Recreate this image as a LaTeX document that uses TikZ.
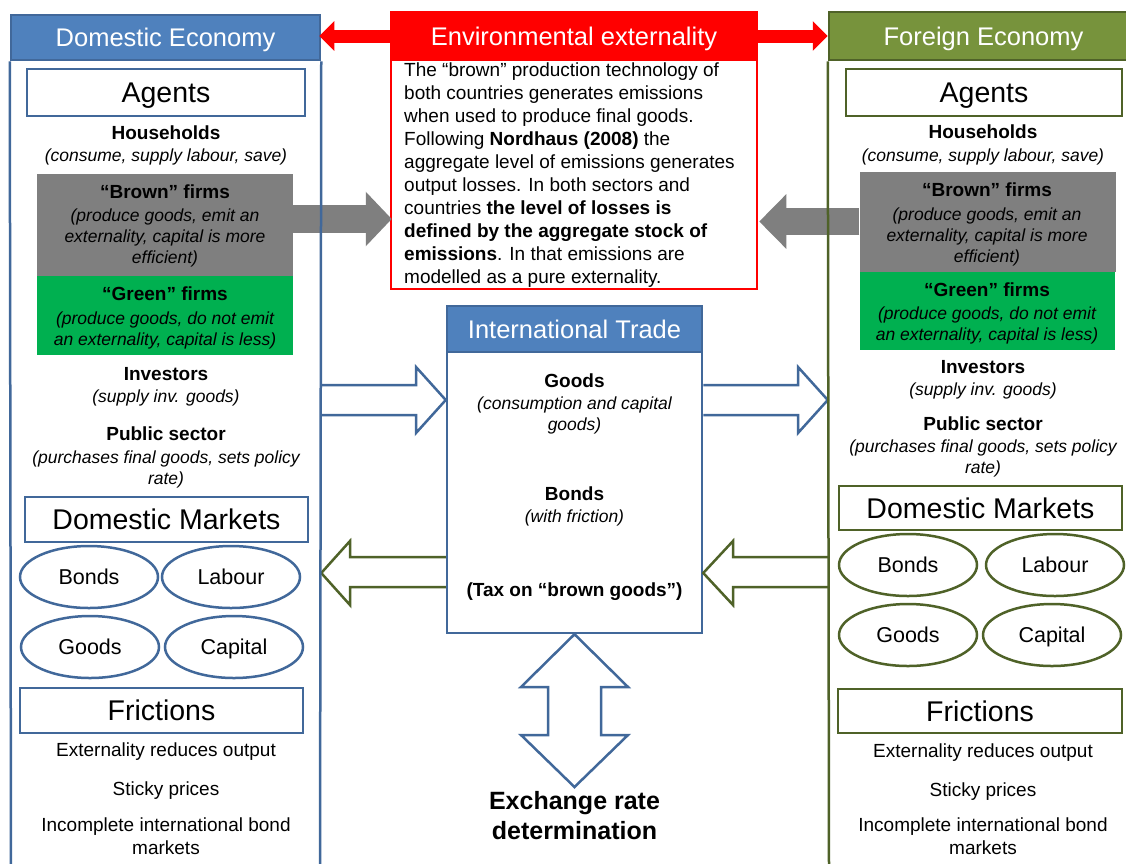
\documentclass[tikz,border=0pt]{standalone}
\usepackage{fontspec}
\setmainfont{Liberation Sans}
\usetikzlibrary{shapes.geometric,arrows.meta,calc}
\definecolor{dblue}{HTML}{41689A}
\definecolor{hblue}{HTML}{4F81BD}
\definecolor{olive}{HTML}{77933C}
\definecolor{dolive}{HTML}{4F6228}
\definecolor{gfill}{HTML}{00B050}
\definecolor{brfill}{HTML}{7F7F7F}
\definecolor{redc}{HTML}{FF0000}
\tikzset{
 lbl/.style={font=\fontsize{19}{22}\selectfont\bfseries, inner sep=0, text height=13.7pt, text depth=0pt},
 desc/.style={font=\fontsize{17.5}{21}\selectfont\itshape, inner sep=0, text height=12.6pt, text depth=0pt},
 descm/.style={font=\fontsize{17.5}{21}\selectfont\itshape, inner sep=0, align=center},
 plain/.style={font=\fontsize{19}{23}\selectfont, inner sep=0, text height=13.7pt, text depth=0pt},
 plainm/.style={font=\fontsize{19}{23}\selectfont, inner sep=0, align=center},
 hdr/.style={font=\fontsize{25.5}{28}\selectfont, text=white, line width=2.5pt, inner sep=0, text height=18.4pt, text depth=0pt},
 secbox/.style={draw, line width=2.5pt, font=\fontsize{28.5}{30}\selectfont, inner sep=0, fill=white, text height=20.5pt, text depth=0pt},
 mkt/.style={ellipse, draw, line width=2.5pt, minimum width=138pt, minimum height=62pt, inner sep=0, font=\fontsize{21.5}{24}\selectfont, text height=15.5pt, text depth=0pt},
 firmbox/.style={inner sep=0, minimum width=256pt},
 hollow/.style={line width=2.5pt, fill=white, line join=miter},
 panelD/.style={dblue, line width=2.5pt},
 panelF/.style={dolive, line width=2.5pt},
}
\begin{document}
\begin{tikzpicture}[x=1pt,y=-1pt]
\clip (0,0) rectangle (1126,863);
\fill[white] (0,0) rectangle (1126,863);

% ---------- Domestic economy ----------
\node[hdr, fill=hblue, draw=dblue, minimum width=309pt, minimum height=45pt] (domH) at (165.5,37.5) {Domestic Economy};
\coordinate (domBL) at (11,870);
\coordinate (domBR) at (320,870);
\node[secbox, draw=dblue, minimum width=278pt, minimum height=47pt] (agD) at (166,92.5) {Agents};
\node[lbl] (hhD) at (166,133) {Households};
\node[desc] (hhDd) at (166,155) {(consume, supply labour, save)};
\node[firmbox, fill=brfill, minimum height=102pt] (brD) at (165,225) {};
\node[firmbox, fill=gfill, minimum height=79pt] (grD) at (165,315.5) {};
\node[lbl] (brDt) at (165,192) {“Brown” firms};
\node[descm] (brDd) at (165,237.5) {(produce goods, emit an\\externality, capital is more\\efficient)};
\node[lbl] (grDt) at (165,294) {“Green” firms};
\node[descm] (grDd) at (165,330.5) {(produce goods, do not emit\\an externality, capital is less)};
\node[lbl] (invD) at (166,374) {Investors};
\node[desc] (invDd) at (166,396) {(supply inv. goods)};
\node[lbl] (pubD) at (166,434) {Public sector};
\node[descm] (pubDd) at (166,469.5) {(purchases final goods, sets policy\\rate)};
\node[secbox, draw=dblue, minimum width=283pt, minimum height=45pt] (dmD) at (166.5,519.5) {Domestic Markets};
\node[mkt, draw=dblue] (bondsD) at (89,577) {Bonds};
\node[mkt, draw=dblue] (labD) at (231,577) {Labour};
\node[mkt, draw=dblue] (goodsD) at (90,647) {Goods};
\node[mkt, draw=dblue] (capD) at (234,647) {Capital};
\node[secbox, draw=dblue, minimum width=283pt, minimum height=45pt] (frD) at (161.5,710.5) {Frictions};
\node[plain] (f1D) at (166,750) {Externality reduces output};
\node[plain] (f2D) at (166,789) {Sticky prices};
\node[plainm] (f3D) at (166,836) {Incomplete international bond\\markets};

% ---------- Foreign economy ----------
\node[hdr, fill=olive, draw=dolive, minimum width=309pt, minimum height=48pt] (forH) at (983.5,36) {Foreign Economy};
\coordinate (forBL) at (829,870);
\node[secbox, draw=dolive, minimum width=276pt, minimum height=47pt] (agF) at (984,92.5) {Agents};
\node[lbl] (hhF) at (983,132) {Households};
\node[desc] (hhFd) at (983,155) {(consume, supply labour, save)};
\node[firmbox, fill=brfill, minimum height=100pt] (brF) at (987.5,222) {};
\node[firmbox, fill=gfill, minimum height=78pt, minimum width=255pt] (grF) at (987.5,311) {};
\node[lbl] (brFt) at (987,190) {“Brown” firms};
\node[descm] (brFd) at (987,236.5) {(produce goods, emit an\\externality, capital is more\\efficient)};
\node[lbl] (grFt) at (987,290) {“Green” firms};
\node[descm] (grFd) at (987,325) {(produce goods, do not emit\\an externality, capital is less)};
\node[lbl] (invF) at (983,367) {Investors};
\node[desc] (invFd) at (983,389) {(supply inv. goods)};
\node[lbl] (pubF) at (983,424) {Public sector};
\node[descm] (pubFd) at (983,458.5) {(purchases final goods, sets policy\\rate)};
\node[secbox, draw=dolive, minimum width=283pt, minimum height=44pt] (dmF) at (980.5,508) {Domestic Markets};
\node[mkt, draw=dolive] (bondsF) at (908,565) {Bonds};
\node[mkt, draw=dolive] (labF) at (1055,565) {Labour};
\node[mkt, draw=dolive] (goodsF) at (908,635) {Goods};
\node[mkt, draw=dolive] (capF) at (1052,635) {Capital};
\node[secbox, draw=dolive, minimum width=284pt, minimum height=44pt] (frF) at (980,711) {Frictions};
\node[plain] (f1F) at (983,751) {Externality reduces output};
\node[plain] (f2F) at (983,790) {Sticky prices};
\node[plainm] (f3F) at (983,836) {Incomplete international bond\\markets};

% ---------- Environmental externality ----------
\node[draw=redc, line width=2.5pt, fill=white, minimum width=366pt, minimum height=277pt, inner sep=0] (env) at (574,150.5) {};
\node[hdr, fill=redc, draw=redc, minimum width=366pt, minimum height=48pt] (envH) at (574,36) {Environmental externality};
\node[font=\fontsize{19}{23}\selectfont, align=left, inner sep=0, anchor=west] (envT) at (404,175.5) {The “brown” production technology of\\
both countries generates emissions\\
when used to produce final goods.\\
Following \textbf{Nordhaus (2008)} the\\
aggregate level of emissions generates\\
output losses. In both sectors and\\
countries \textbf{the level of losses is}\\
\textbf{defined by the aggregate stock of}\\
\textbf{emissions}. In that emissions are\\
modelled as a pure externality.};

% red arrows
\draw[redc, line width=13pt, -{Triangle[width=29pt,length=15pt]}] (envH.west) -- ($(envH.west -| domH.east)+(-2,0)$);
\draw[redc, line width=13pt, -{Triangle[width=29pt,length=15pt]}] (envH.east) -- (envH.east -| forH.west);

% gray arrows
\coordinate (gL) at (0,219);
\coordinate (gR) at (0,221.5);
\draw[brfill, line width=28pt, -{Triangle[width=53pt,length=26pt]}] (brD.east |- gL) -- ($(env.west |- gL)+(2,0)$);
\draw[brfill, line width=27pt, -{Triangle[width=53pt,length=27pt]}] (brF.west |- gR) -- ($(env.east |- gR)+(1,0)$);

% ---------- International trade ----------
\node[draw=dblue, line width=2.5pt, fill=white, minimum width=255pt, minimum height=327pt, inner sep=0] (trade) at (574.5,469.5) {};
\node[hdr, fill=hblue, draw=dblue, minimum width=255pt, minimum height=46pt] (tradeH) at (574.5,329) {International Trade};
\node[lbl] (tGoods) at (574.5,381) {Goods};
\node[descm] (tGoodsd) at (574.5,415.5) {(consumption and capital\\goods)};
\node[lbl] (tBonds) at (574.5,494) {Bonds};
\node[desc] (tBondsd) at (574.5,516) {(with friction)};
\node[lbl] (tTax) at (574.5,590) {(Tax on “brown goods”)};

% hollow arrows
\draw[hollow, draw=dblue] (320,385) -- (416,385) -- (416,367) -- (trade.west |- 0,400) -- (416,433) -- (416,415) -- (320,415);
\draw[hollow, draw=dblue] (trade.east |- 0,385) -- (798,385) -- (798,367) -- (forH.south west |- 0,400) -- (798,433) -- (798,415) -- (trade.east |- 0,415);
\draw[hollow, draw=dolive] (trade.west |- 0,557) -- (350,557) -- (350,541) -- (domH.south east |- 0,573) -- (350,605) -- (350,587) -- (trade.west |- 0,587);
\draw[hollow, draw=dolive] (829,557) -- (733,557) -- (733,541) -- (trade.east |- 0,573) -- (733,605) -- (733,587) -- (829,587);

% panel side lines (drawn on top)
\draw[panelD] (domH.south west) -- (domBL);
\draw[panelD] (domH.south east) -- (domBR);
\draw[panelF] (forH.south west) -- (forBL);

% exchange rate double arrow
\draw[hollow, draw=dblue] (trade.south) -- (628,687) -- (601,687) -- (601,735) -- (628,735) -- (574.5,787) -- (521,735) -- (548,735) -- (548,687) -- (521,687) -- cycle;
\node[font=\fontsize{25}{30}\selectfont\bfseries, align=center, inner sep=0] (xr) at (574.5,815.5) {Exchange rate\\determination};
\end{tikzpicture}
\end{document}
